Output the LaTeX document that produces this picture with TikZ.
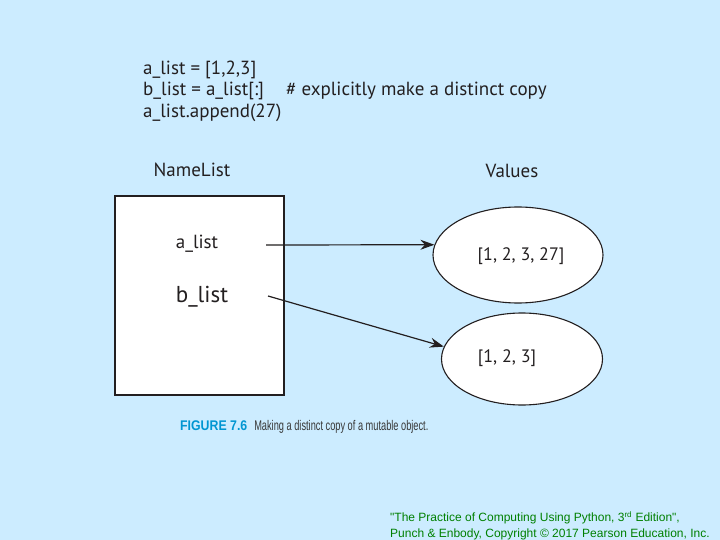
\documentclass[tikz,border=0pt]{standalone}
\usepackage{fontspec}
\setmainfont{PT Sans}
\newfontfamily\capfont[FakeStretch=0.66]{Liberation Sans}
\newfontfamily\capboldfont[FakeStretch=0.88]{Liberation Sans Bold}
\newfontfamily\creditfont{Liberation Sans}
\usetikzlibrary{arrows.meta, positioning, shapes.geometric}
\definecolor{SlideBlue}{RGB}{204, 236, 255}
\definecolor{InkBlack}{RGB}{35, 31, 32}
\definecolor{FigCyan}{RGB}{0, 150, 210}
\definecolor{CapGray}{RGB}{55, 55, 55}
\definecolor{CreditGreen}{RGB}{0, 128, 0}

\tikzset{
  codetext/.style={anchor=base west, inner sep=0pt, text=InkBlack,
    font=\fontsize{19}{22}\selectfont},
  heading/.style={inner sep=0pt, text=InkBlack, font=\fontsize{19}{22}\selectfont},
  namebox/.style={draw=InkBlack, fill=white, line width=1.1pt},
  valueball/.style={ellipse, draw=InkBlack, fill=white, line width=1.1pt, inner sep=0pt},
  nametext/.style={inner sep=0pt, text=InkBlack},
  pointer/.style={-{Stealth[length=14pt, width=10pt]}, line width=1.2pt, InkBlack}
}

\begin{document}
\begin{tikzpicture}[x=1pt,y=-1pt]
  \path[use as bounding box] (0,0) rectangle (720,540);
  \fill[SlideBlue] (0,0) rectangle (720,540);

  % code listing
  \node[codetext] (codeA) at (143,75) {a\_list = [1,2,3]};
  \node[codetext] (codeB) at (143,96) {b\_list = a\_list[:]};
  \node[codetext] (comment) at (286,96) {\# explicitly make a distinct copy};
  \node[codetext] (codeC) at (143,118) {a\_list.append(27)};

  % headings
  \node[heading] (namehead) at (192,170) {NameList};
  \node[heading] (valhead) at (512,171) {Values};

  % namespace box
  \draw[namebox] (115,196) rectangle (284,395);
  \node[nametext, font=\fontsize{19}{22}\selectfont] (alist) at (197,244) {a\_list};
  \node[nametext, font=\fontsize{23}{26}\selectfont] (blist) at (202,297) {b\_list};
  \coordinate (aout) at (266,245);
  \coordinate (bout) at (268,296);

  % values
  \node[valueball, minimum width=170pt, minimum height=96pt] (aval) at (518,255) {};
  \node[valueball, minimum width=161pt, minimum height=92pt] (bval) at (522,359) {};
  \node[nametext, font=\fontsize{18}{21}\selectfont] (atxt) at (521,256) {[1, 2, 3, 27]};
  \node[nametext, font=\fontsize{18}{21}\selectfont] (btxt) at (507,358) {[1, 2, 3]};

  \draw[pointer] (aout) -- (aval.173);
  \draw[pointer] (bout) -- (bval.171);

  % caption
  \node[anchor=west, inner sep=0pt, font=\fontsize{14}{16}\selectfont] (caption) at (180,427)
    {\textcolor{FigCyan}{\capboldfont FIGURE 7.6}\hspace{7pt}\textcolor{CapGray}{\capfont Making a distinct copy of a mutable object.}};

  % credit
  \node[anchor=north west, align=left, inner sep=0pt, text=CreditGreen,
    font=\creditfont\fontsize{12}{16}\selectfont] (credit) at (390,511)
    {"The Practice of Computing Using Python, 3\textsuperscript{rd} Edition",\\
     Punch \& Enbody, Copyright \textcopyright{} 2017 Pearson Education, Inc.};
\end{tikzpicture}
\end{document}
